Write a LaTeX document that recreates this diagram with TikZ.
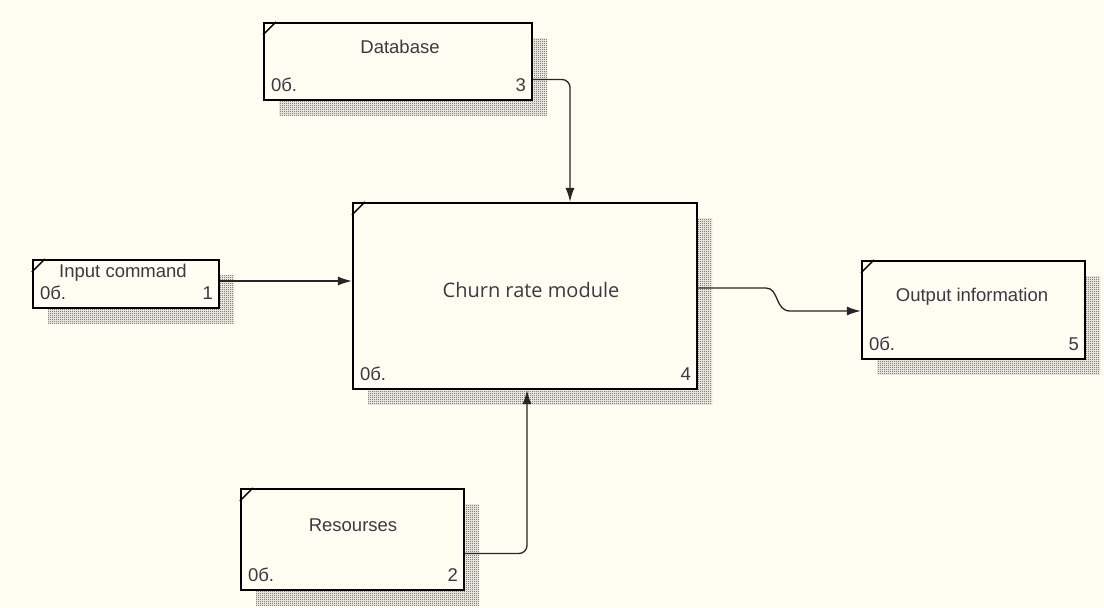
\documentclass[tikz,border=0pt]{standalone}
\usepackage{fontspec}
\setmainfont{Liberation Sans}
\newfontfamily\churnfont{Open Sans}
\usetikzlibrary{arrows.meta,shadows,patterns}

\definecolor{paper}{RGB}{255,252,242}
\definecolor{ink}{RGB}{58,58,64}

\pgfdeclarepatternformonly{checkshade}{\pgfpointorigin}{\pgfpoint{2pt}{2pt}}{\pgfpoint{2pt}{2pt}}{%
  \pgfpathrectangle{\pgfpointorigin}{\pgfpoint{1pt}{1pt}}%
  \pgfpathrectangle{\pgfpoint{1pt}{1pt}}{\pgfpoint{1pt}{1pt}}%
  \pgfusepath{fill}%
}

\tikzset{
  block/.style={draw=black, line width=2.2pt, fill=paper, inner sep=0pt,
    general shadow={shadow xshift=15pt, shadow yshift=-15pt,
      pattern=checkshade, pattern color=black!75}},
  conn/.style={draw=black!85, line width=1.3pt, -{Latex[length=14pt,width=9pt]}},
  ttl/.style={font=\fontsize{18.5}{20}\selectfont, text=ink, inner sep=0pt, anchor=base},
  tag/.style={font=\fontsize{18.5}{20}\selectfont, text=ink, inner sep=0pt},
}

\begin{document}
\begin{tikzpicture}[x=1pt, y=-1pt]
  \fill[paper] (0,0) rectangle (1104,608);
  \useasboundingbox (0,0) rectangle (1104,608);

  \node[block, minimum width=268pt, minimum height=77pt] (db) at (398,61.5) {};
  \node[block, minimum width=186pt, minimum height=48pt] (inp) at (126,284) {};
  \node[block, minimum width=344pt, minimum height=186pt] (main) at (525,296) {};
  \node[block, minimum width=223pt, minimum height=98pt] (out) at (973.5,310) {};
  \node[block, minimum width=223pt, minimum height=101pt] (res) at (352.5,539.5) {};

  \foreach \b in {db,inp,main,out,res}
    \draw[line width=1.4pt] ([yshift=-13pt]\b.north west) -- ([xshift=13pt]\b.north west);

  \node[ttl] (dbtext) at (400,53) {Database};
  \node[ttl] (inptext) at (123,277) {Input command};
  \node[ttl, font=\churnfont\fontsize{20}{22}\selectfont] (maintext) at (531,297) {Churn rate module};
  \node[ttl] (outtext) at (972,301) {Output information};
  \node[ttl] (restext) at (353,531) {Resourses};

  \foreach \b/\n in {db/3,inp/1,main/4,out/5,res/2}{
    \node[tag, anchor=base west, xshift=8pt, yshift=10pt] (\b code) at (\b.south west) {0б.};
    \node[tag, anchor=base east, xshift=-7pt, yshift=10pt] (\b num) at (\b.south east) {\n};
  }

  \draw[conn, rounded corners=8pt] ([yshift=-18pt]db.east) -| ([xshift=45pt]main.north);
  \draw[conn] ([yshift=3pt]inp.east) -- ([yshift=15pt]main.west);
  \draw[conn, rounded corners=8pt] ([yshift=-14pt]res.east) -| ([xshift=2pt]main.south);
  \draw[conn] ([yshift=8pt]main.east) -- (766,288) .. controls (779,288) and (775,311) .. (790,311)
    -- ([yshift=-1pt]out.west);
\end{tikzpicture}
\end{document}
